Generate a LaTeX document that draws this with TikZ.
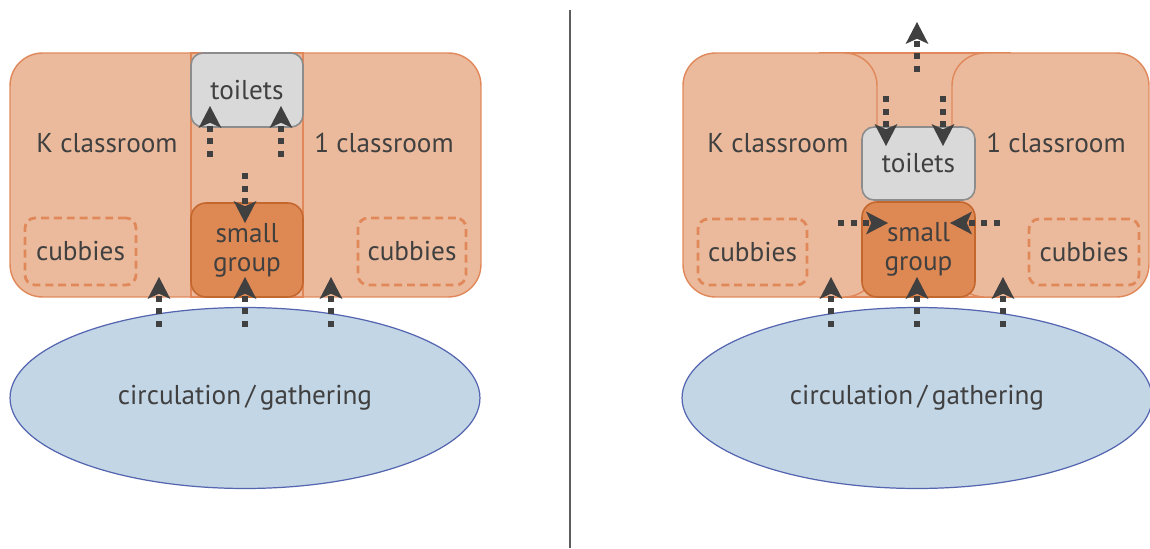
\documentclass[tikz,border=0pt]{standalone}
\usepackage{fontspec}
\setmainfont{PT Sans}
\usepackage{tikz}
\usetikzlibrary{arrows.meta,shapes.geometric}
\definecolor{roomfill}{HTML}{EBBA9C}
\definecolor{roomline}{HTML}{E0885A}
\definecolor{grpfill}{HTML}{DE8853}
\definecolor{grpline}{HTML}{C4672E}
\definecolor{wcfill}{HTML}{D9D9D9}
\definecolor{wcline}{HTML}{8C8C8C}
\definecolor{hallfill}{HTML}{C3D6E6}
\definecolor{hallline}{HTML}{5566B0}
\definecolor{ink}{HTML}{404040}
\tikzset{
	every node/.style={text=ink, font=\fontsize{15.5pt}{16.5pt}\selectfont, inner sep=0pt},
	room/.style={draw=roomline, fill=roomfill, line width=0.8pt, rounded corners=0.65cm, minimum height=4.88cm},
	band/.style={draw=roomline, fill=roomfill, line width=0.8pt, minimum height=4.88cm},
	wc/.style={draw=wcline, fill=wcfill, line width=0.9pt, rounded corners=0.24cm},
	grp/.style={draw=grpline, fill=grpfill, line width=0.9pt, rounded corners=0.3cm, align=center},
	cubby/.style={draw=roomline, line width=1.6pt, dash pattern=on 4.5pt off 2.8pt, rounded corners=0.2cm},
	hall/.style={ellipse, draw=hallline, fill=hallfill, line width=0.7pt, minimum width=9.4cm, minimum height=3.62cm},
	flow/.style={draw=ink, line width=3.6pt, dash pattern=on 3.4pt off 3.8pt, -{Stealth[length=12.5pt, width=13pt, inset=3pt, line width=0pt]}},
	sep/.style={draw=ink!85, line width=1.3pt}
}
\newcommand{\flow}[2]{\draw[flow] (#1) -- (#2);}
\begin{document}
\begin{tikzpicture}[x=0.02cm, y=-0.02cm]
	\useasboundingbox (0,0) rectangle (1150,548);
	% left: shared room
	\node[room, minimum width=9.42cm] (roomL) at (245.5,175) {};
	\node[band, minimum width=2.24cm] (bandL) at (247,175) {};
	\node[wc, minimum width=2.24cm, minimum height=1.48cm] (wcL) at (247,90) {toilets};
	\node[grp, minimum width=2.24cm, minimum height=1.88cm] (grpL) at (247,250) {small\\group};
	\node[cubby, minimum width=2.22cm, minimum height=1.34cm] (cubL1) at (80.5,251.5) {cubbies};
	\node[cubby, minimum width=2.16cm, minimum height=1.34cm] (cubL2) at (412,251.5) {cubbies};
	\node (kL) at (107,143) {K classroom};
	\node (oneL) at (384,143) {1 classroom};
	\node[hall] (hallL) at (245,398) {circulation\,/\,gathering};
	
	\coordinate (a1) at (210,157); \coordinate (a1t) at (210,106);
	\coordinate (a2) at (281,157); \coordinate (a2t) at (281,106);
	\coordinate (a3) at (245,173); \coordinate (a3t) at (245,223);
	\flow{a1}{a1t}
	\flow{a2}{a2t}
	\flow{a3}{a3t}
	\foreach \x [count=\i] in {159,245,331}
	{
		\coordinate (inL\i) at (\x,327);
		\coordinate (inLt\i) at (\x,277);
		\flow{inL\i}{inLt\i}
	}
	
	% divider
	\coordinate (sepTop) at (570,10);
	\coordinate (sepBot) at (570,548);
	\draw[sep] (sepTop) -- (sepBot);
	
	% right: two rooms
	\node[band, minimum width=3.8cm] (bandR) at (915,175) {};
	\node[room, minimum width=3.88cm] (roomR1) at (780,175) {};
	\node[room, minimum width=3.94cm] (roomR2) at (1050.5,175) {};
	\node[wc, minimum width=2.26cm, minimum height=1.46cm] (wcR) at (918.5,163.5) {toilets};
	\node[grp, minimum width=2.26cm, minimum height=1.9cm] (grpR) at (918.5,249.5) {small\\group};
	\node[cubby, minimum width=2.18cm, minimum height=1.32cm] (cubR1) at (752.5,252) {cubbies};
	\node[cubby, minimum width=2.2cm, minimum height=1.32cm] (cubR2) at (1084,252) {cubbies};
	\node (kR) at (778,143) {K classroom};
	\node (oneR) at (1056,143) {1 classroom};
	\node[hall] (hallR) at (917,398) {circulation\,/\,gathering};
	
	\coordinate (b0) at (917,72); \coordinate (b0t) at (917,22);
	\coordinate (b1) at (886,96); \coordinate (b1t) at (886,146);
	\coordinate (b2) at (943,96); \coordinate (b2t) at (943,146);
	\coordinate (b3) at (838,223); \coordinate (b3t) at (888,223);
	\coordinate (b4) at (1000,223); \coordinate (b4t) at (950,223);
	\flow{b0}{b0t}
	\flow{b1}{b1t}
	\flow{b2}{b2t}
	\flow{b3}{b3t}
	\flow{b4}{b4t}
	\foreach \x [count=\i] in {831,917,1003}
	{
		\coordinate (inR\i) at (\x,327);
		\coordinate (inRt\i) at (\x,277);
		\flow{inR\i}{inRt\i}
	}
\end{tikzpicture}
\end{document}
